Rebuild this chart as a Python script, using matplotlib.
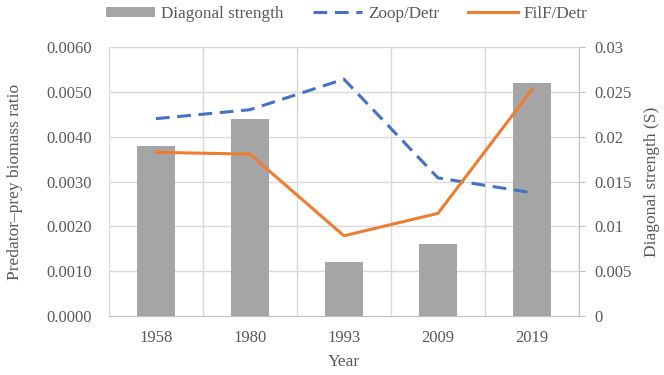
import matplotlib.pyplot as plt
import numpy as np

years = ["1958", "1980", "1993", "2009", "2019"]
diag_strength = [0.019, 0.022, 0.006, 0.008, 0.026]
zoop_detr = [0.0044, 0.0046, 0.00528, 0.00308, 0.00275]
filf_detr = [0.00365, 0.00361, 0.00179, 0.00229, 0.00505]

plt.rcParams['font.family'] = ['Liberation Serif', 'DejaVu Serif']
txt = '#595959'
grid = '#D9D9D9'

fig = plt.figure(figsize=(6.64, 3.75), dpi=100)
ax = fig.add_axes([0.164, 0.157, 0.708, 0.718])
ax2 = ax.twinx()

x = np.arange(len(years))

# bars on the right axis, drawn behind the lines
ax2.bar(x, diag_strength, width=0.4, color='#A5A5A5', zorder=1,
        label='Diagonal strength')
ax2.set_ylim(0, 0.03)
ax2.set_yticks([0, 0.005, 0.01, 0.015, 0.02, 0.025, 0.03])
ax2.set_yticklabels(['0', '0.005', '0.01', '0.015', '0.02', '0.025', '0.03'])
ax2.set_ylabel('Diagonal strength (S)', fontsize=12.5, color=txt, labelpad=9)

# line axis on top of bar axis
ax.set_zorder(ax2.get_zorder() + 1)
ax.patch.set_visible(False)
ax.plot(x, zoop_detr, color='#4472C4', lw=2.2, ls=(0, (4.5, 2.5)),
        label='Zoop/Detr')
ax.plot(x, filf_detr, color='#ED7D31', lw=2.2, label='FilF/Detr')
ax.set_ylim(0, 0.006)
ax.set_yticks(np.arange(0, 0.0061, 0.001))
ax.set_yticklabels(['%.4f' % v for v in np.arange(0, 0.0061, 0.001)])
ax.set_xlim(-0.5, len(years) - 0.5)
ax.set_xticks(x)
ax.set_xticklabels(years)
ax.set_xlabel('Year', fontsize=12.5, color=txt, labelpad=6)
ax.set_ylabel('Predator\u2013prey biomass ratio', fontsize=12.5, color=txt,
              labelpad=17)

# grid: horizontal + vertical lines at category boundaries (on bar axis so it's behind)
for yv in np.arange(0.005, 0.0301, 0.005):
    ax2.axhline(yv, color=grid, lw=1, zorder=0)
for xv in np.arange(-0.5, len(years) - 0.4, 1):
    ax2.axvline(xv, color=grid, lw=1, zorder=0)

for a in (ax, ax2):
    for s in a.spines.values():
        s.set_visible(False)
    a.tick_params(labelsize=12, colors=txt)
ax.spines['bottom'].set_visible(True)
ax.spines['bottom'].set_color('#BFBFBF')
ax.tick_params(axis='x', length=0, pad=10)
ax.tick_params(axis='y', length=0, pad=12)
ax2.tick_params(axis='y', length=4, color='#BFBFBF', pad=7)
ax2.spines['right'].set_visible(True)
ax2.spines['right'].set_color('#BFBFBF')

h1, l1 = ax2.get_legend_handles_labels()
h2, l2 = ax.get_legend_handles_labels()
fig.legend(h1 + h2, l1 + l2, loc='upper center', bbox_to_anchor=(0.522, 1.025),
           ncol=3, frameon=False, fontsize=12.3, handlelength=2.9,
           columnspacing=1.7, handletextpad=0.35, labelcolor=txt,
           handleheight=0.6)

fig.savefig('out.png', dpi=100)
